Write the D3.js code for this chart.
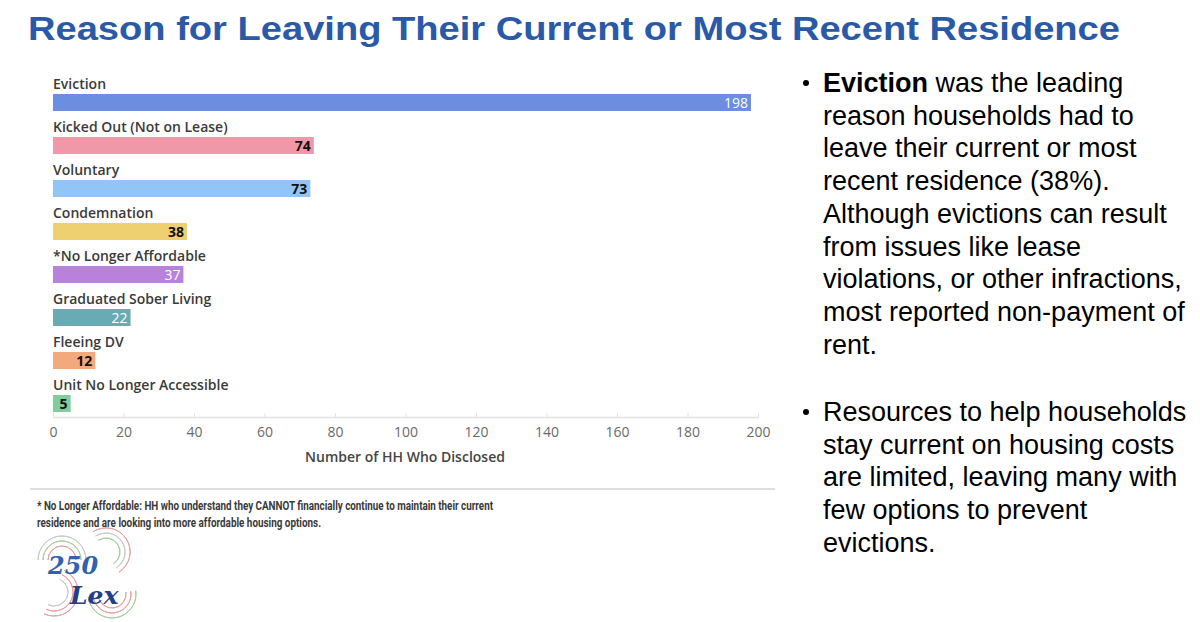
<!DOCTYPE html>
<html>
<head>
<meta charset="utf-8">
<script src="https://cdn.jsdelivr.net/npm/d3@7"></script>
<style>
  body { margin: 0; background: #fff; }
  svg { display: block; }
</style>
</head>
<body>
<div id="chart"></div>
<script>
// page size
const width = 1200;
const height = 622;

// chart data
const categories = [
  "Eviction",
  "Kicked Out (Not on Lease)",
  "Voluntary",
  "Condemnation",
  "*No Longer Affordable",
  "Graduated Sober Living",
  "Fleeing DV",
  "Unit No Longer Accessible"
];
const counts = [198, 74, 73, 38, 37, 22, 12, 5];
const barColors = ["#6b8ee0", "#f098a8", "#92c5f7", "#efd070", "#b882dc", "#6aaab5", "#f4a97c", "#80cc9d"];
const labelColors = ["#fff", "#111", "#111", "#111", "#fff", "#fff", "#111", "#111"];
const xTicks = [0, 20, 40, 60, 80, 100, 120, 140, 160, 180, 200];

const bullet1 = [
  [["Eviction", true], [" was the leading", false]],
  [["reason households had to", false]],
  [["leave their current or most", false]],
  [["recent residence (38%).", false]],
  [["Although evictions can result", false]],
  [["from issues like lease", false]],
  [["violations, or other infractions,", false]],
  [["most reported non-payment of", false]],
  [["rent.", false]]
];
const bullet2 = [
  "Resources to help households",
  "stay current on housing costs",
  "are limited, leaving many with",
  "few options to prevent",
  "evictions."
];
const footnote = [
  "* No Longer Affordable: HH who understand they CANNOT financially continue to maintain their current",
  "residence and are looking into more affordable housing options."
];

const svg = d3.select("#chart")
  .append("svg")
  .attr("width", width)
  .attr("height", height);

// title
svg.append("text")
  .attr("x", 28)
  .attr("y", 40)
  .attr("font-family", "Liberation Sans, Arial, sans-serif")
  .attr("font-weight", "bold")
  .attr("font-size", 34)
  .attr("fill", "#2a5aa7")
  .attr("textLength", 1092)
  .attr("lengthAdjust", "spacingAndGlyphs")
  .text("Reason for Leaving Their Current or Most Recent Residence");

/*
  Scales
*/
const xScale = d3.scaleLinear()
  .domain([0, 200])
  .range([53, 758]);

const yScale = d3.scaleBand()
  .domain(categories)
  .range([76, 76 + 43 * categories.length]);

const data = categories.map((c, i) => ({ name: c, value: counts[i], color: barColors[i], lc: labelColors[i] }));

// x axis
const xAxis = svg.append("g")
  .attr("transform", "translate(0,417)")
  .call(d3.axisBottom(xScale).tickValues(xTicks).tickSize(0).tickPadding(10));
xAxis.select(".domain").attr("stroke", "#e2e2e2").attr("stroke-width", 1.5);
xAxis.selectAll(".tick line").attr("stroke", "#e2e2e2").attr("y2", -4);
xAxis.selectAll(".tick text")
  .attr("font-family", "Open Sans, sans-serif")
  .attr("font-size", 14)
  .attr("fill", "#6a6a6a");

svg.append("text")
  .attr("x", 405)
  .attr("y", 462)
  .attr("text-anchor", "middle")
  .attr("font-family", "Open Sans, sans-serif")
  .attr("font-weight", 600)
  .attr("font-size", 14)
  .attr("fill", "#444")
  .text("Number of HH Who Disclosed");

/*
  Bars
*/
const rows = svg.selectAll(".row")
  .data(data)
  .enter()
  .append("g")
  .attr("class", "row");

rows.append("text")
  .attr("x", 53)
  .attr("y", d => yScale(d.name) + 13)
  .attr("font-family", "Open Sans, sans-serif")
  .attr("font-weight", 600)
  .attr("font-size", 14)
  .attr("fill", "#3a3a3a")
  .text(d => d.name);

rows.append("rect")
  .attr("x", xScale(0))
  .attr("y", d => yScale(d.name) + 18)
  .attr("width", d => xScale(d.value) - xScale(0))
  .attr("height", 17)
  .attr("fill", d => d.color);

rows.append("text")
  .attr("x", d => xScale(d.value) - 3)
  .attr("y", d => yScale(d.name) + 32)
  .attr("text-anchor", "end")
  .attr("font-family", "Open Sans, sans-serif")
  .attr("font-weight", d => d.lc === "#fff" ? 500 : 700)
  .attr("font-size", 14)
  .attr("fill", d => d.lc)
  .text(d => d.value);

// divider and footnote
svg.append("line")
  .attr("x1", 30).attr("x2", 775)
  .attr("y1", 489).attr("y2", 489)
  .attr("stroke", "#dedede")
  .attr("stroke-width", 2);

svg.selectAll(".foot")
  .data(footnote)
  .enter()
  .append("text")
  .attr("class", "foot")
  .attr("x", 37)
  .attr("y", (d, i) => 510 + i * 17)
  .attr("font-family", "Liberation Sans Narrow, Roboto, sans-serif")
  .attr("font-weight", "bold")
  .attr("font-size", 12.5)
  .attr("fill", "#3a3a3a")
  .attr("textLength", (d, i) => i === 0 ? 456 : 284)
  .attr("lengthAdjust", "spacingAndGlyphs")
  .text(d => d);

/*
  Bullet text
*/
const bodyFont = "Liberation Sans, Arial, sans-serif";
const lineH = 32.7;

function bulletDot(y) {
  svg.append("circle")
    .attr("cx", 806)
    .attr("cy", y - 9)
    .attr("r", 3)
    .attr("fill", "#000");
}

bulletDot(92);
bullet1.forEach((parts, i) => {
  const t = svg.append("text")
    .attr("x", 823)
    .attr("y", 92 + i * lineH)
    .attr("font-family", bodyFont)
    .attr("font-size", 27)
    .attr("fill", "#000");
  parts.forEach(p => {
    t.append("tspan")
      .attr("font-weight", p[1] ? "bold" : "normal")
      .text(p[0]);
  });
});

bulletDot(421);
bullet2.forEach((s, i) => {
  svg.append("text")
    .attr("x", 823)
    .attr("y", 421 + i * lineH)
    .attr("font-family", bodyFont)
    .attr("font-size", 27)
    .attr("fill", "#000")
    .text(s);
});

/*
  Logo (approximation)
*/
const logo = svg.append("g").attr("transform", "translate(84,578)");
const arcColors = ["#e8a0a0", "#a8cc98", "#c8c8c8", "#e8a0a0"];
[[-22, -18], [22, -26], [-30, 14], [28, 16]].forEach((c, j) => {
  [14, 19, 24].forEach((r, k) => {
    logo.append("path")
      .attr("d", d3.arc()({ innerRadius: r, outerRadius: r, startAngle: -Math.PI / 2 + j, endAngle: Math.PI / 2 + j }))
      .attr("transform", `translate(${c[0]},${c[1]})`)
      .attr("fill", "none")
      .attr("stroke", arcColors[(j + k) % 4])
      .attr("stroke-width", 1);
  });
});
logo.append("text")
  .attr("x", -36).attr("y", -4)
  .attr("font-family", "DejaVu Serif, serif")
  .attr("font-style", "italic")
  .attr("font-weight", "bold")
  .attr("font-size", 24)
  .attr("fill", "#2f63b0")
  .text("250");
logo.append("text")
  .attr("x", -14).attr("y", 26)
  .attr("font-family", "DejaVu Serif, serif")
  .attr("font-style", "italic")
  .attr("font-weight", "bold")
  .attr("font-size", 25)
  .attr("fill", "#243f8a")
  .text("Lex");
</script>
</body>
</html>
